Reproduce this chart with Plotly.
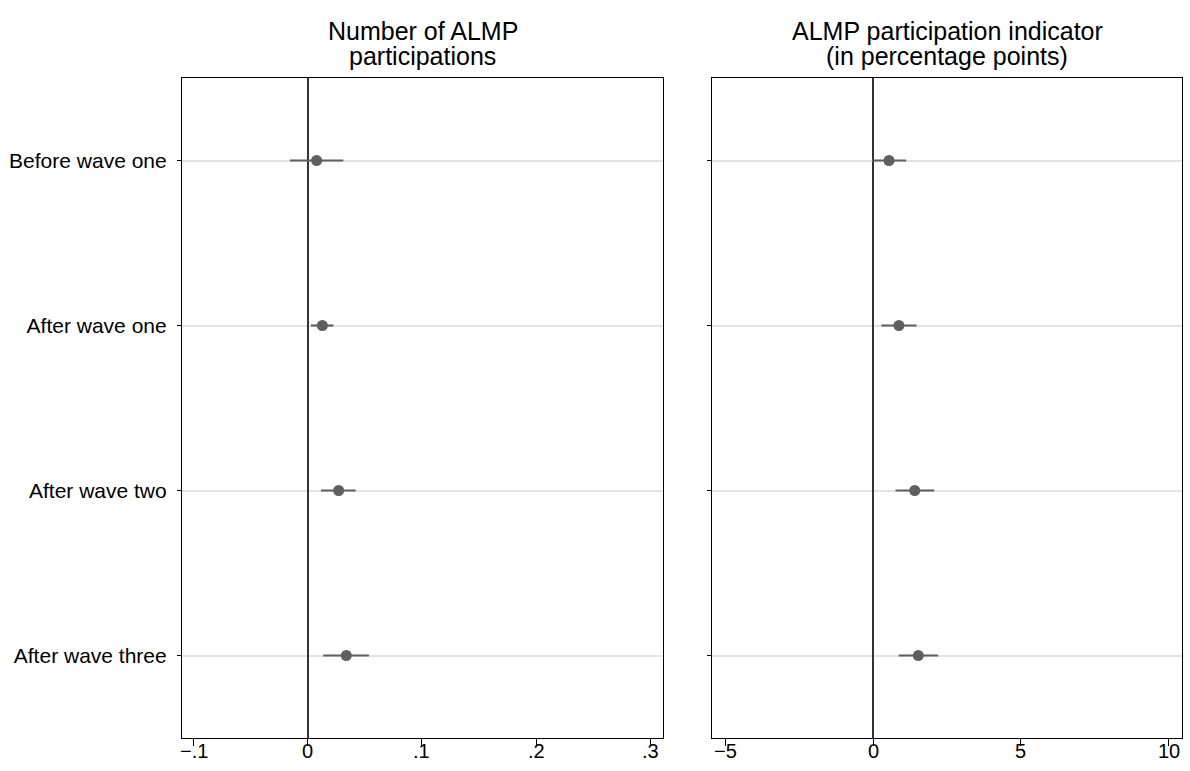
import plotly.graph_objects as go

categories = ["Before wave one", "After wave one", "After wave two", "After wave three"]

# Panel 1: Number of ALMP participations
num_est = [0.0076, 0.0126, 0.0269, 0.0336]
num_lo = [-0.0158, 0.0026, 0.0114, 0.0134]
num_hi = [0.0310, 0.0222, 0.0418, 0.0535]

# Panel 2: ALMP participation indicator (percentage points)
ind_est = [0.54, 0.875, 1.41, 1.53]
ind_lo = [-0.03, 0.28, 0.76, 0.87]
ind_hi = [1.12, 1.47, 2.07, 2.20]

x1_ticks = [-0.1, 0, 0.1, 0.2, 0.3]
x1_ticktext = ["\u2212.1", "0", ".1", ".2", ".3"]
x2_ticks = [-5, 0, 5, 10]
x2_ticktext = ["\u22125", "0", "5", "10"]

titles = [["Number of ALMP", "participations"],
          ["ALMP participation indicator", "(in percentage points)"]]

MARK = "#5f5f5f"
FONT = "Liberation Sans, Arial, Helvetica, sans-serif"

fig = go.Figure()

def add_panel(est, lo, hi, xa, ya):
    fig.add_trace(go.Scatter(
        x=est, y=categories, mode="markers",
        marker=dict(color=MARK, size=11),
        error_x=dict(type="data", symmetric=False,
                     array=[h - e for h, e in zip(hi, est)],
                     arrayminus=[e - l for e, l in zip(est, lo)],
                     color=MARK, thickness=2.2, width=0),
        xaxis=xa, yaxis=ya, showlegend=False, hoverinfo="x+y"))

add_panel(num_est, num_lo, num_hi, "x", "y")
add_panel(ind_est, ind_lo, ind_hi, "x2", "y2")

W, H = 1190, 771

def px_x(p):
    return p / W

def px_y(p):
    return 1 - p / H

ydom = [px_y(738), px_y(78)]

common_x = dict(showline=True, mirror=True, linecolor="black", linewidth=1.2,
                ticks="outside", ticklen=7, tickcolor="black", tickwidth=1,
                showgrid=False, zeroline=True, zerolinecolor="#333333",
                zerolinewidth=1.5, showticklabels=False)
common_y = dict(showline=True, mirror=True, linecolor="black", linewidth=1.2,
                ticks="outside", ticklen=4, tickcolor="black",
                showgrid=True, gridcolor="#e3e3e3", gridwidth=2,
                range=[3.5, -0.5], domain=ydom, type="category",
                tickfont=dict(size=21, color="black", family=FONT))

fig.update_layout(
    width=W, height=H,
    margin=dict(l=0, r=0, t=0, b=0),
    paper_bgcolor="white", plot_bgcolor="white",
    font=dict(family=FONT, color="black"),
    xaxis=dict(domain=[px_x(182), px_x(663)], range=[-0.1105, 0.3114],
               tickvals=x1_ticks, anchor="y", **common_x),
    yaxis=dict(anchor="x", showticklabels=True, ticklabelstandoff=6, **common_y),
    xaxis2=dict(domain=[px_x(712), px_x(1182)], range=[-5.44, 10.44],
                tickvals=x2_ticks, anchor="y2", **common_x),
    yaxis2=dict(anchor="x2", showticklabels=False, **common_y),
)

# x tick labels placed close to the axis, as in the reference
for vals, texts, xa in [(x1_ticks, x1_ticktext, "x"), (x2_ticks, x2_ticktext, "x2")]:
    for v, t in zip(vals, texts):
        fig.add_annotation(text=t, xref=xa, yref="paper", x=v, y=px_y(751),
                           xanchor="center", yanchor="middle", showarrow=False,
                           font=dict(size=20, color="black", family=FONT))

for lines, xa in zip(titles, ["x domain", "x2 domain"]):
    for line, yc in zip(lines, [31, 56]):
        fig.add_annotation(text=line, xref=xa, yref="paper", x=0.5, y=px_y(yc),
                           xanchor="center", yanchor="middle", showarrow=False,
                           font=dict(size=25, color="black", family=FONT))

fig.write_html(
    "out.html",
    config={"displayModeBar": False},
    post_script="document.body.style.margin='0';document.body.style.overflow='hidden';",
)
